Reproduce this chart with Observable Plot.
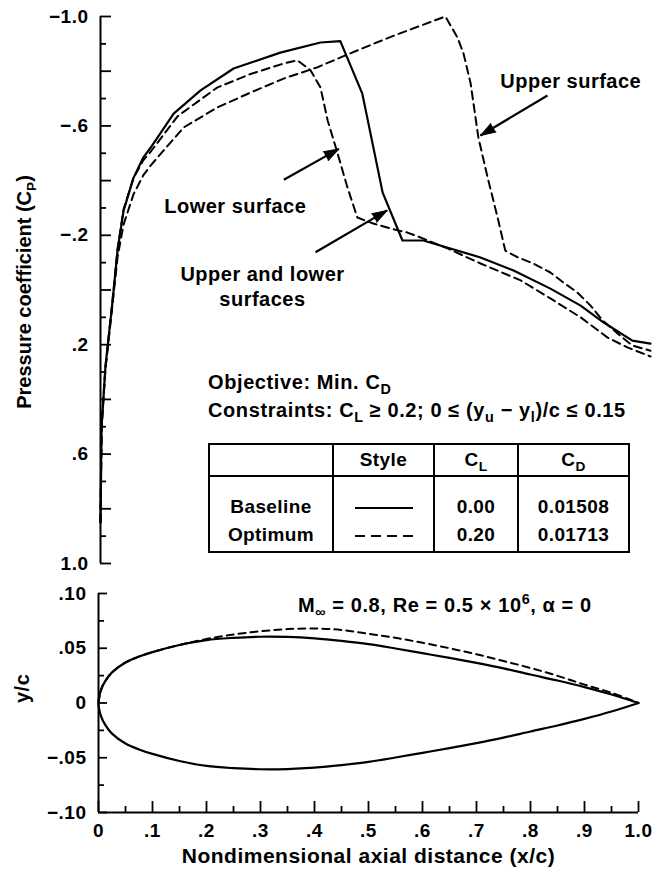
<!DOCTYPE html>
<html>
<head>
<meta charset="utf-8">
<script src="https://cdn.jsdelivr.net/npm/d3@7"></script>
<script src="https://cdn.jsdelivr.net/npm/@observablehq/plot@0.6"></script>
<style>
  html, body { margin: 0; padding: 0; background: #fff; }
  #wrap { position: relative; width: 671px; height: 877px; background: #fff; color: #000;
          font-family: "Liberation Sans", Arial, sans-serif; font-weight: bold; overflow: hidden; }
  #wrap svg { position: absolute; left: 0; }
  .ov { position: absolute; white-space: nowrap; font-size: 20px; line-height: 24px; letter-spacing: 0.6px; }
  .ov sub, #tbl sub { font-size: 72%; vertical-align: -0.35em; line-height: 0; }
  .ov sup { font-size: 72%; vertical-align: 0.55em; line-height: 0; }
  #tbl { position: absolute; left: 208px; top: 443px; border-collapse: collapse; border: 2px solid #000;
         font-size: 19px; letter-spacing: 0.4px; }
  #tbl td { border-left: 2px solid #000; border-right: 2px solid #000; padding: 0; text-align: center; }
  #tbl tr.h td { border-bottom: 2px solid #000; height: 30px; vertical-align: middle; }
  #tbl tr.r1 td { height: 41px; vertical-align: bottom; padding-bottom: 3px; }
  #tbl tr.r2 td { height: 27px; vertical-align: top; padding-top: 3px; }
</style>
</head>
<body>
<div id="wrap"></div>
<script>
// ---------------- DATA ----------------
// Pressure coefficient, baseline (solid, upper = lower surface)
const baselineX  = [0.000, 0.002, 0.009, 0.022, 0.031, 0.042, 0.060, 0.078, 0.091, 0.133, 0.182, 0.242, 0.327, 0.400, 0.436, 0.476, 0.513, 0.549, 0.587, 0.691, 0.751, 0.818, 0.873, 0.915, 0.967, 1.000];
const baselineCp = [0.85, 0.50, 0.28, 0.04, -0.145, -0.29, -0.41, -0.485, -0.52, -0.645, -0.73, -0.81, -0.868, -0.905, -0.91, -0.718, -0.356, -0.181, -0.181, -0.119, -0.071, -0.005, 0.057, 0.119, 0.185, 0.196];

// Optimum, upper surface (dashed)
const optUpperX  = [0.000, 0.002, 0.009, 0.022, 0.031, 0.042, 0.060, 0.078, 0.091, 0.151, 0.212, 0.273, 0.333, 0.394, 0.442, 0.496, 0.540, 0.627, 0.649, 0.660, 0.673, 0.687, 0.704, 0.722, 0.736, 0.758, 0.787, 0.818, 0.842, 0.867, 0.891, 0.913, 0.940, 0.967, 1.000];
const optUpperCp = [0.85, 0.50, 0.29, 0.05, -0.12, -0.24, -0.35, -0.42, -0.455, -0.594, -0.667, -0.722, -0.773, -0.814, -0.855, -0.900, -0.935, -1.000, -0.923, -0.865, -0.755, -0.558, -0.410, -0.265, -0.144, -0.120, -0.097, -0.064, -0.027, 0.009, 0.057, 0.111, 0.159, 0.203, 0.222];

// Optimum, lower surface (dashed)
const optLowerX  = [0.000, 0.002, 0.009, 0.022, 0.031, 0.042, 0.060, 0.078, 0.091, 0.140, 0.212, 0.273, 0.333, 0.358, 0.382, 0.400, 0.413, 0.431, 0.449, 0.467, 0.496, 0.540, 0.558, 0.587, 0.631, 0.691, 0.764, 0.818, 0.873, 0.922, 0.958, 1.000];
const optLowerCp = [0.85, 0.50, 0.28, 0.035, -0.15, -0.295, -0.41, -0.475, -0.505, -0.635, -0.74, -0.79, -0.828, -0.84, -0.803, -0.740, -0.620, -0.500, -0.375, -0.265, -0.243, -0.218, -0.210, -0.188, -0.152, -0.097, -0.035, 0.031, 0.100, 0.174, 0.210, 0.243];

// Airfoil geometry (y/c)
const afX            = [0, 0.005, 0.0125, 0.025, 0.05, 0.075, 0.1, 0.15, 0.2, 0.25, 0.3, 0.35, 0.4, 0.45, 0.5, 0.55, 0.6, 0.65, 0.7, 0.75, 0.8, 0.85, 0.9, 0.95, 1.0];
const afBaselineUpper = [0, 0.0125, 0.020, 0.028, 0.037, 0.0424, 0.0465, 0.053, 0.0575, 0.0595, 0.0605, 0.0603, 0.059, 0.0567, 0.0538, 0.0498, 0.0455, 0.0412, 0.0366, 0.0316, 0.026, 0.0205, 0.0145, 0.0078, 0];
const afBaselineLower = [0, -0.0125, -0.020, -0.028, -0.037, -0.0424, -0.0465, -0.053, -0.0575, -0.0595, -0.0605, -0.0603, -0.059, -0.0567, -0.0538, -0.0498, -0.0455, -0.0412, -0.0366, -0.0316, -0.026, -0.0205, -0.0145, -0.0078, 0];
const afOptimumUpper  = [0, 0.0125, 0.020, 0.028, 0.037, 0.0424, 0.0465, 0.053, 0.0585, 0.0625, 0.0655, 0.0675, 0.068, 0.0667, 0.0632, 0.0595, 0.055, 0.050, 0.0445, 0.0383, 0.032, 0.0248, 0.0168, 0.0093, 0];

// Tick labels
const cpTickValues = [-1.0, -0.6, -0.2, 0.2, 0.6, 1.0];
const cpTickLabels = ["\u22121.0", "\u2212.6", "\u2212.2", ".2", ".6", "1.0"];
const ycTickValues = [0.10, 0.05, 0, -0.05, -0.10];
const ycTickLabels = [".10", ".05", "0", "\u2212.05", "\u2212.10"];
const xTickValues  = [0, 0.1, 0.2, 0.3, 0.4, 0.5, 0.6, 0.7, 0.8, 0.9, 1.0];
const xTickLabels  = ["0", ".1", ".2", ".3", ".4", ".5", ".6", ".7", ".8", ".9", "1.0"];

// Annotations (top panel, data coordinates)
const annLabels = ["Upper surface", "Lower surface", "Upper and lower\nsurfaces"];
const annX      = [0.855, 0.245, 0.2945];
const annCp     = [-0.766, -0.309, -0.018];
const arrowX1 = [0.8127, 0.3333, 0.3909];
const arrowY1 = [-0.7112, -0.403, -0.138];
const arrowX2 = [0.6909, 0.4333, 0.5212];
const arrowY2 = [-0.5649, -0.516, -0.291];

const xTitle = "Nondimensional axial distance (x/c)";
const yTitleBottom = "y/c";

// ---------------- BUILD ----------------
const W = 671, topH = 580, botH = 297;
const M1 = {left: 100, right: 21, top: 16, bottom: 17};
const M2 = {left: 98, right: 33, top: 13, bottom: 65};
const FONT = '"Liberation Sans", Arial, sans-serif';

const zip = (xs, ys) => xs.map((x, i) => ({x, y: ys[i]}));
const baseline = zip(baselineX, baselineCp);
const optUpper = zip(optUpperX, optUpperCp);
const optLower = zip(optLowerX, optLowerCp);
const annotations = annLabels.map((label, i) => ({label, x: annX[i], y: annCp[i]}));
const arrows = arrowX1.map((x1, i) => ({x1, y1: arrowY1[i], x2: arrowX2[i], y2: arrowY2[i]}));

const afBase = [...zip(afX, afBaselineUpper).reverse(), ...zip(afX, afBaselineLower).slice(1)];
const afOpt = zip(afX, afOptimumUpper);

const near = (arr, v) => arr.findIndex(a => Math.abs(a - v) < 1e-9);
const cpMinor = d3.range(-10, 11).filter(k => k % 2 !== 0).map(k => k / 10);
const cpMajor = d3.range(-10, 11, 2).map(k => k / 10);
const ycMinor = [-0.075, -0.025, 0.025, 0.075];
const ycMajor = [-0.1, -0.05, 0, 0.05, 0.1];
const xMinor = d3.range(1, 20, 2).map(k => k / 20);
const xMajor = d3.range(0, 11).map(k => k / 10);

// pixel mappings identical to the Plot scales (for tick lengths and arrow-head angles)
const sx1 = d3.scaleLinear([0, 1], [M1.left, W - M1.right]);
const sy1 = d3.scaleLinear([-1, 1], [M1.top, topH - M1.bottom]);
const sx2 = d3.scaleLinear([0, 1], [M2.left, W - M2.right]);
const headAngle = d => Math.atan2(sx1(d.x2) - sx1(d.x1), -(sy1(d.y2) - sy1(d.y1))) * 180 / Math.PI;

// inward ticks on the left axis (rule from x = 0 to a pixel length) and bottom axis
const inY = (ticks, size, sx, left) => Plot.ruleY(ticks, {y: d => d, x1: 0, x2: sx.invert(left + size), strokeWidth: 1.8});
const inX = (ticks, size) => Plot.axisX(ticks, {tickSize: size, dy: -size, strokeWidth: 1.8, tickFormat: () => "", label: null});

const topChart = Plot.plot({
  width: W, height: topH,
  marginLeft: M1.left, marginRight: M1.right, marginTop: M1.top, marginBottom: M1.bottom,
  style: {fontFamily: FONT, fontWeight: "bold", background: "transparent", color: "black", overflow: "visible", letterSpacing: "0.5px"},
  x: {domain: [0, 1], axis: null},
  y: {domain: [-1, 1], reverse: true, label: null},
  marks: [
    Plot.ruleX([0], {y1: -1, y2: 1, strokeWidth: 2}),
    inY(cpMinor, 6, sx1, M1.left),
    inY(cpMajor, 11, sx1, M1.left),
    Plot.axisY(cpTickValues, {tickSize: 0, tickPadding: 12, fontSize: 19, label: null,
      tickFormat: d => cpTickLabels[near(cpTickValues, d)]}),
    Plot.line(baseline, {x: "x", y: "y", stroke: "black", strokeWidth: 2.2}),
    Plot.line(optUpper, {x: "x", y: "y", stroke: "black", strokeWidth: 2, strokeDasharray: "8,5"}),
    Plot.line(optLower, {x: "x", y: "y", stroke: "black", strokeWidth: 2, strokeDasharray: "8,5"}),
    Plot.link(arrows, {x1: "x1", y1: "y1", x2: "x2", y2: "y2", stroke: "black", strokeWidth: 2.2}),
    Plot.vector(arrows, {x: "x2", y: "y2", length: 15, rotate: headAngle, shape: "spike", r: 5,
      anchor: "end", fill: "black", stroke: "black", strokeWidth: 1}),
    Plot.text(annotations, {x: "x", y: "y", text: "label", fontSize: 20, fontWeight: "bold",
      lineHeight: 1.25, fill: "black", stroke: null})
  ]
});

const botChart = Plot.plot({
  width: W, height: botH,
  marginLeft: M2.left, marginRight: M2.right, marginTop: M2.top, marginBottom: M2.bottom,
  style: {fontFamily: FONT, fontWeight: "bold", background: "transparent", color: "black", overflow: "visible", letterSpacing: "0.5px"},
  x: {domain: [0, 1], label: null},
  y: {domain: [-0.1, 0.1], label: null},
  marks: [
    Plot.ruleX([0], {y1: -0.1, y2: 0.1, strokeWidth: 2}),
    Plot.ruleY([-0.1], {x1: 0, x2: 1, strokeWidth: 2}),
    inY(ycMinor, 6, sx2, M2.left),
    inY(ycMajor, 9, sx2, M2.left),
    Plot.axisY(ycTickValues, {tickSize: 0, tickPadding: 12, fontSize: 19, label: null,
      tickFormat: d => ycTickLabels[near(ycTickValues, d)]}),
    inX(xMinor, 6),
    inX(xMajor, 11),
    Plot.axisX(xTickValues, {tickSize: 0, tickPadding: 11, fontSize: 19, label: null,
      tickFormat: d => xTickLabels[near(xTickValues, d)]}),
    Plot.line(afBase, {x: "x", y: "y", curve: "catmull-rom", stroke: "black", strokeWidth: 2.2}),
    Plot.line(afOpt, {x: "x", y: "y", curve: "catmull-rom", stroke: "black", strokeWidth: 2, strokeDasharray: "7,5"}),
    Plot.text([xTitle], {text: d => d, frameAnchor: "bottom", dy: 50, fontSize: 21, fontWeight: "bold", fill: "black"}),
    Plot.text([yTitleBottom], {text: d => d, frameAnchor: "left", dx: -76, rotate: -90, fontSize: 20, fontWeight: "bold", fill: "black"})
  ]
});

const wrap = document.getElementById("wrap");
topChart.style.top = "0px";
botChart.style.top = topH + "px";
wrap.appendChild(topChart);
wrap.appendChild(botChart);

// Rich-text overlays (subscripts / superscripts)
function overlay(html, style) {
  const d = document.createElement("div");
  d.className = "ov";
  d.innerHTML = html;
  Object.assign(d.style, style);
  wrap.appendChild(d);
  return d;
}
overlay('Pressure coefficient (C<sub style="font-size:68%">P</sub>)',
  {left: "24px", top: "292px", letterSpacing: "0px", transform: "translate(-50%,-50%) rotate(-90deg)"});
overlay('Objective: Min. C<sub>D</sub>', {left: "208px", top: "370px"});
overlay('Constraints: C<sub>L</sub> \u2265 0.2; 0 \u2264 (y<sub>u</sub> \u2212 y<sub>l</sub>)/c \u2264 0.15', {left: "208px", top: "398px"});
overlay('M<sub>\u221E</sub> = 0.8, Re = 0.5 \u00D7 10<sup>6</sup>, \u03B1 = 0', {left: "298px", top: "593px"});

// Legend / results table
const tableRows = [
  {name: "Baseline", dash: null, cl: "0.00", cd: "0.01508"},
  {name: "Optimum", dash: "10,6", cl: "0.20", cd: "0.01713"}
];
const styleSvg = dash => `<svg width="58" height="6" style="position:static;display:inline-block;vertical-align:middle"><line x1="0" y1="3" x2="58" y2="3" stroke="black" stroke-width="2"${dash ? ` stroke-dasharray="${dash}"` : ""}/></svg>`;
const tbl = document.createElement("table");
tbl.id = "tbl";
tbl.innerHTML =
  `<colgroup><col style="width:124px"><col style="width:101px"><col style="width:84px"><col style="width:111px"></colgroup>` +
  `<tr class="h"><td></td><td>Style</td><td>C<sub>L</sub></td><td>C<sub>D</sub></td></tr>` +
  tableRows.map((r, i) => `<tr class="r${i + 1}"><td>${r.name}</td><td>${styleSvg(r.dash)}</td><td>${r.cl}</td><td>${r.cd}</td></tr>`).join("");
wrap.appendChild(tbl);
</script>
</body>
</html>
